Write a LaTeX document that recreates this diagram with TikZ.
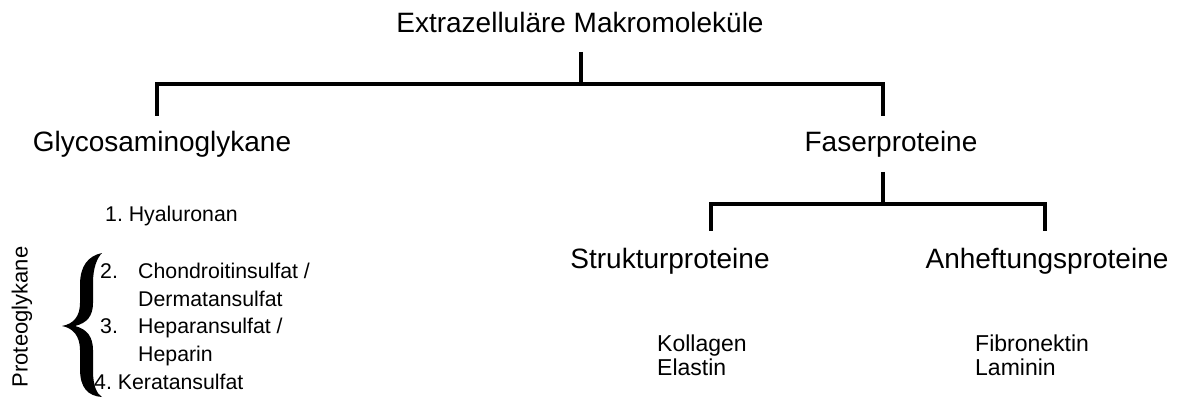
\documentclass[tikz,border=0pt]{standalone}
\usepackage{fontspec}
\setmainfont{Liberation Sans}
\frenchspacing
\begin{document}
\begin{tikzpicture}[x=1pt,y=-1pt,
  big/.style={font=\fontsize{28}{32}\selectfont, inner sep=0pt, anchor=base},
  small/.style={font=\fontsize{23}{27}\selectfont, inner sep=0pt, anchor=base west},
  listitem/.style={font=\fontsize{21.3}{25}\selectfont, inner sep=0pt, anchor=base west},
  tree/.style={line width=3.2pt, line cap=butt}]
\useasboundingbox (0,0) rectangle (1178,398);

% top level
\node[big] (title) at (580,33) {Extrazelluläre Makromoleküle};
\node[big] (glyco) at (162,152) {Glycosaminoglykane};
\node[big] (faser) at (891,152) {Faserproteine};

\coordinate (tTop) at (581,52);
\coordinate (mTop) at (581,84);
\coordinate (gTop) at (157,116);
\coordinate (fTop) at (883,116);
\draw[tree] (tTop) -- (mTop);
\draw[tree] (gTop) |- (mTop) -| (fTop);

% fibre proteins
\node[big] (struk) at (670,268) {Strukturproteine};
\node[big] (anh) at (1047,268) {Anheftungsproteine};

\coordinate (fBot) at (883,172);
\coordinate (fMid) at (883,204);
\coordinate (sTop) at (711,231);
\coordinate (aTop) at (1045,231);
\draw[tree] (fBot) -- (fMid);
\draw[tree] (sTop) |- (fMid) -| (aTop);

\node[small] (koll) at (657,351) {Kollagen};
\node[small] (elas) at (657,375) {Elastin};
\node[small] (fibr) at (975,351) {Fibronektin};
\node[small] (lami) at (975,375) {Laminin};

% glycosaminoglycans
\node[listitem] (hyal) at (105,222) {1. Hyaluronan};
\node[listitem] (n2) at (100,278) {2.};
\node[listitem] (chon) at (138,278) {Chondroitinsulfat /};
\node[listitem] (derm) at (138,306) {Dermatansulfat};
\node[listitem] (n3) at (100,333) {3.};
\node[listitem] (hepa) at (138,333) {Heparansulfat /};
\node[listitem] (hepr) at (138,361) {Heparin};
\node[listitem] (kera) at (94,389) {4. Keratansulfat};

% proteoglycan brace (serif style, filled outline) and its label
\coordinate (brace) at (62,326);
\fill (102,253) .. controls (88,256) and (80,266) .. (80,285) -- (80,303)
  .. controls (80,317) and (73,324) .. (brace)
  .. controls (73,328) and (80,336) .. (80,350) -- (80,369)
  .. controls (80,388) and (88,396) .. (102,397)
  .. controls (97,394) and (93,386) .. (93,371) -- (93,350)
  .. controls (93,337) and (87,329) .. (75,326)
  .. controls (87,323) and (93,316) .. (93,303) -- (93,283)
  .. controls (93,268) and (97,258) .. (102,253) -- cycle;
\node[font=\fontsize{22}{26}\selectfont, inner sep=0pt, rotate=90] (prot) at (22,317) {Proteoglykane};
\end{tikzpicture}
\end{document}
